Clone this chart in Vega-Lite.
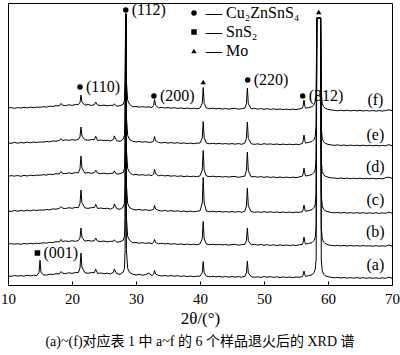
{
"$schema":"https://vega.github.io/schema/vega-lite/v6.json",
"width":384,"height":282,
"autosize":{"type":"none"},
"padding":{"left":8,"top":3,"right":8,"bottom":70},
"config":{"view":{"stroke":"black","strokeWidth":1},"font":"Liberation Serif, Noto Sans CJK SC"},
"title":{"text":"(a)~(f)对应表 1 中 a~f 的 6 个样品退火后的 XRD 谱","orient":"bottom","anchor":"middle","font":"Liberation Serif, Noto Sans CJK SC","fontSize":14,"fontWeight":"normal","color":"black","offset":9},
"datasets":{
"xrd":[
{"x":10,"a":9.3,"b":40.7,"c":74.2,"d":108.6,"e":142.3,"f":176.8},
{"x":10.5,"a":8.6,"b":41.4,"c":73.5,"d":109.4,"e":141.6,"f":177.5},
{"x":11,"a":9.5,"b":40.8,"c":74.6,"d":108.9,"e":142.7,"f":176.6},
{"x":11.5,"a":8.9,"b":41.3,"c":73.8,"d":109.5,"e":141.8,"f":177.4},
{"x":12,"a":9.4,"b":40.6,"c":74.5,"d":108.7,"e":142.5,"f":177.0},
{"x":12.5,"a":8.8,"b":41.6,"c":74.0,"d":109.6,"e":142.0,"f":177.7},
{"x":13,"a":9.7,"b":41.0,"c":74.8,"d":109.0,"e":142.9,"f":177.1},
{"x":13.5,"a":9.1,"b":41.7,"c":74.1,"d":109.8,"e":142.2,"f":177.9},
{"x":14,"a":9.8,"b":41.2,"c":75.0,"d":109.3,"e":143.0,"f":177.3},
{"x":14.5,"a":9.3,"b":41.9,"c":74.4,"d":110.0,"e":142.5,"f":178.0},
{"x":14.85,"a":12.5,"b":41.4,"c":75.1,"d":109.5,"e":143.1,"f":177.5},
{"x":15,"a":24.8,"b":42.0,"c":74.6,"d":110.2,"e":142.6,"f":178.2},
{"x":15.15,"a":12.8,"b":41.6,"c":75.2,"d":109.7,"e":143.2,"f":177.6},
{"x":15.5,"a":10.2,"b":42.3,"c":74.8,"d":110.4,"e":142.8,"f":178.4},
{"x":16,"a":9.9,"b":41.8,"c":75.5,"d":109.9,"e":143.6,"f":177.9},
{"x":16.5,"a":10.8,"b":42.7,"c":75.2,"d":110.8,"e":143.2,"f":178.8},
{"x":17,"a":10.4,"b":42.4,"c":76.1,"d":110.4,"e":144.1,"f":178.5},
{"x":17.5,"a":11.3,"b":43.4,"c":75.8,"d":111.3,"e":143.7,"f":179.4},
{"x":18,"a":11.0,"b":43.0,"c":76.6,"d":111.0,"e":144.6,"f":179.0},
{"x":18.3,"a":13.5,"b":45.6,"c":78.4,"d":113.6,"e":146.4,"f":181.6},
{"x":18.5,"a":11.9,"b":43.4,"c":76.9,"d":111.8,"e":144.5,"f":179.8},
{"x":19,"a":11.4,"b":44.1,"c":76.4,"d":111.3,"e":145.2,"f":179.4},
{"x":19.5,"a":12.2,"b":43.5,"c":77.3,"d":112.2,"e":144.6,"f":180.2},
{"x":20,"a":11.6,"b":44.3,"c":76.7,"d":111.5,"e":145.4,"f":179.6},
{"x":20.5,"a":12.4,"b":43.7,"c":77.5,"d":112.4,"e":144.8,"f":180.4},
{"x":21,"a":12.5,"b":44.4,"c":77.4,"d":112.3,"e":145.6,"f":180.3},
{"x":21.25,"a":17.0,"b":47.2,"c":81.5,"d":116.2,"e":148.2,"f":182.5},
{"x":21.4,"a":32,"b":57,"c":95,"d":129,"e":158,"f":190},
{"x":21.55,"a":18.0,"b":47.9,"c":82.4,"d":117.1,"e":148.9,"f":183.0},
{"x":22,"a":12.3,"b":43.8,"c":77.2,"d":111.8,"e":145.3,"f":179.8},
{"x":22.5,"a":11.7,"b":44.5,"c":76.6,"d":112.5,"e":144.7,"f":180.5},
{"x":23,"a":12.4,"b":43.9,"c":77.3,"d":111.7,"e":145.4,"f":179.6},
{"x":23.5,"a":12.3,"b":44.3,"c":77.5,"d":112.2,"e":145.5,"f":180.3},
{"x":23.7,"a":15.8,"b":46.8,"c":80.8,"d":114.8,"e":148.8,"f":182.8},
{"x":24,"a":11.5,"b":43.9,"c":76.5,"d":111.9,"e":144.5,"f":180.0},
{"x":24.5,"a":12.0,"b":43.4,"c":77.0,"d":111.3,"e":145.0,"f":179.4},
{"x":25,"a":11.3,"b":44.0,"c":76.3,"d":111.9,"e":144.3,"f":179.9},
{"x":25.5,"a":11.8,"b":43.2,"c":76.8,"d":111.1,"e":144.8,"f":179.2},
{"x":26,"a":11.0,"b":43.6,"c":75.9,"d":111.6,"e":144.0,"f":179.6},
{"x":26.5,"a":12.8,"b":43.8,"c":77.4,"d":112.0,"e":145.6,"f":179.7},
{"x":26.6,"a":16.1,"b":45.1,"c":81.1,"d":114.1,"e":149.1,"f":181.1},
{"x":27,"a":11.2,"b":42.8,"c":76.3,"d":110.8,"e":144.2,"f":178.8},
{"x":27.5,"a":10.7,"b":43.3,"c":75.7,"d":111.3,"e":143.6,"f":179.3},
{"x":28,"a":12.9,"b":44.6,"c":77.8,"d":112.6,"e":145.9,"f":180.6},
{"x":28.2,"a":16.8,"b":48.7,"c":81.8,"d":116.7,"e":149.8,"f":184.7},
{"x":28.3,"a":35.7,"b":67.6,"c":100.7,"d":135.6,"e":168.7,"f":203.6},
{"x":28.38,"a":271,"b":271,"c":271,"d":271,"e":271,"f":271},
{"x":28.46,"a":271,"b":271,"c":271,"d":271,"e":271,"f":271},
{"x":28.5,"a":35.5,"b":67.8,"c":100.4,"d":135.8,"e":168.5,"f":203.8},
{"x":28.7,"a":16.6,"b":48.5,"c":81.6,"d":116.5,"e":149.6,"f":184.5},
{"x":29,"a":12.4,"b":44.6,"c":77.4,"d":112.6,"e":145.4,"f":180.6},
{"x":29.5,"a":10.8,"b":42.2,"c":75.7,"d":110.1,"e":143.7,"f":178.2},
{"x":30,"a":10.0,"b":42.5,"c":75.0,"d":110.6,"e":143.0,"f":178.6},
{"x":30.5,"a":10.6,"b":41.8,"c":75.6,"d":109.9,"e":143.5,"f":177.9},
{"x":31,"a":9.8,"b":42.3,"c":74.8,"d":110.3,"e":142.8,"f":178.3},
{"x":31.5,"a":10.4,"b":41.6,"c":75.3,"d":109.7,"e":143.3,"f":177.8},
{"x":32,"a":11.8,"b":42.1,"c":74.6,"d":110.1,"e":142.6,"f":178.1},
{"x":32.5,"a":9.4,"b":41.4,"c":75.0,"d":109.4,"e":143.0,"f":177.4},
{"x":32.75,"a":10.8,"b":42.6,"c":75.8,"d":111.0,"e":144.0,"f":179.6},
{"x":32.9,"a":14.5,"b":45.5,"c":79.5,"d":115.5,"e":148.5,"f":185.5},
{"x":33.05,"a":11.0,"b":42.7,"c":76.0,"d":111.3,"e":144.3,"f":179.9},
{"x":33.5,"a":9.6,"b":41.2,"c":74.6,"d":109.2,"e":142.6,"f":177.2},
{"x":34,"a":9.0,"b":41.7,"c":74.0,"d":109.8,"e":142.1,"f":177.6},
{"x":34.5,"a":9.5,"b":41.1,"c":74.5,"d":109.1,"e":142.6,"f":177.0},
{"x":35,"a":8.9,"b":41.5,"c":73.8,"d":109.5,"e":141.9,"f":177.4},
{"x":35.5,"a":9.4,"b":40.8,"c":74.3,"d":108.8,"e":142.4,"f":176.8},
{"x":36,"a":8.8,"b":41.3,"c":73.7,"d":109.3,"e":141.8,"f":177.3},
{"x":36.5,"a":9.3,"b":40.6,"c":74.2,"d":108.6,"e":142.3,"f":176.6},
{"x":37,"a":8.6,"b":41.1,"c":73.5,"d":109.1,"e":141.6,"f":177.1},
{"x":37.5,"a":9.1,"b":40.4,"c":74.0,"d":108.4,"e":142.1,"f":176.4},
{"x":38,"a":8.4,"b":40.9,"c":73.3,"d":108.9,"e":141.4,"f":176.9},
{"x":38.5,"a":8.9,"b":40.3,"c":73.8,"d":108.3,"e":141.9,"f":176.3},
{"x":39,"a":8.3,"b":40.8,"c":73.2,"d":108.8,"e":141.3,"f":176.8},
{"x":39.5,"a":8.8,"b":40.2,"c":73.7,"d":108.2,"e":141.8,"f":176.2},
{"x":40,"a":8.8,"b":41.1,"c":74.2,"d":109.2,"e":142.0,"f":177.0},
{"x":40.35,"a":12.3,"b":46.3,"c":82.0,"d":115.0,"e":147.0,"f":181.8},
{"x":40.5,"a":23.5,"b":63.5,"c":107.5,"d":134.5,"e":163.5,"f":197.5},
{"x":40.65,"a":12.2,"b":46.2,"c":82.1,"d":114.9,"e":147.1,"f":181.7},
{"x":41,"a":8.9,"b":40.9,"c":73.9,"d":109.0,"e":141.9,"f":177.0},
{"x":41.5,"a":8.2,"b":40.3,"c":73.3,"d":108.3,"e":141.2,"f":176.3},
{"x":42,"a":8.7,"b":40.7,"c":73.8,"d":108.8,"e":141.7,"f":176.8},
{"x":42.5,"a":8.1,"b":40.2,"c":73.1,"d":108.1,"e":141.1,"f":176.1},
{"x":43,"a":8.6,"b":40.6,"c":73.6,"d":108.6,"e":141.6,"f":176.6},
{"x":43.5,"a":8.0,"b":40.1,"c":73.0,"d":108.0,"e":141.0,"f":176.0},
{"x":44,"a":8.5,"b":40.5,"c":73.5,"d":108.5,"e":141.5,"f":176.5},
{"x":44.5,"a":7.9,"b":39.9,"c":72.9,"d":107.9,"e":140.9,"f":175.9},
{"x":45,"a":8.4,"b":40.4,"c":73.4,"d":108.4,"e":141.4,"f":176.4},
{"x":45.5,"a":7.9,"b":40.6,"c":72.8,"d":108.5,"e":140.8,"f":176.6},
{"x":46,"a":8.5,"b":39.8,"c":73.5,"d":107.7,"e":141.5,"f":175.8},
{"x":46.5,"a":7.8,"b":40.4,"c":72.7,"d":108.3,"e":140.7,"f":176.4},
{"x":47,"a":8.6,"b":40.6,"c":73.9,"d":108.9,"e":141.8,"f":176.9},
{"x":47.25,"a":12.0,"b":44.3,"c":79.0,"d":114.3,"e":146.5,"f":181.3},
{"x":47.4,"a":24,"b":57,"c":97,"d":133,"e":163,"f":197},
{"x":47.55,"a":12.1,"b":44.2,"c":79.1,"d":114.2,"e":146.6,"f":181.2},
{"x":48,"a":8.3,"b":40.2,"c":73.4,"d":108.1,"e":141.3,"f":176.2},
{"x":48.5,"a":7.7,"b":40.7,"c":72.7,"d":108.6,"e":140.6,"f":176.7},
{"x":49,"a":8.2,"b":39.9,"c":73.2,"d":107.8,"e":141.2,"f":175.9},
{"x":49.5,"a":7.6,"b":40.5,"c":72.6,"d":108.4,"e":140.5,"f":176.4},
{"x":50,"a":8.4,"b":39.7,"c":73.3,"d":107.6,"e":141.3,"f":175.7},
{"x":50.5,"a":7.8,"b":40.3,"c":72.7,"d":108.3,"e":140.7,"f":176.3},
{"x":51,"a":8.3,"b":39.6,"c":73.2,"d":107.5,"e":141.1,"f":175.6},
{"x":51.5,"a":7.6,"b":40.2,"c":72.5,"d":108.1,"e":140.5,"f":176.1},
{"x":52,"a":8.2,"b":39.5,"c":73.1,"d":107.4,"e":141.0,"f":175.5},
{"x":52.5,"a":7.5,"b":40.1,"c":72.4,"d":108.0,"e":140.4,"f":176.0},
{"x":53,"a":8.1,"b":39.5,"c":73.0,"d":107.4,"e":140.9,"f":175.4},
{"x":53.5,"a":7.5,"b":40.0,"c":72.4,"d":107.9,"e":140.3,"f":175.9},
{"x":54,"a":8.0,"b":39.4,"c":72.9,"d":107.3,"e":140.8,"f":175.3},
{"x":54.5,"a":7.4,"b":40.0,"c":72.3,"d":107.9,"e":140.3,"f":175.9},
{"x":55,"a":8.0,"b":39.5,"c":72.9,"d":107.4,"e":140.8,"f":175.4},
{"x":55.5,"a":7.7,"b":40.2,"c":72.6,"d":108.0,"e":140.5,"f":176.0},
{"x":56,"a":8.4,"b":40.6,"c":73.4,"d":108.9,"e":141.6,"f":176.8},
{"x":56.1,"a":9.8,"b":42.4,"c":75.1,"d":110.7,"e":143.7,"f":178.7},
{"x":56.25,"a":14,"b":48,"c":80,"d":117,"e":150,"f":185},
{"x":56.4,"a":9.9,"b":42.5,"c":75.0,"d":110.8,"e":143.8,"f":178.6},
{"x":56.5,"a":8.7,"b":40.9,"c":73.8,"d":109.0,"e":141.9,"f":176.9},
{"x":57,"a":9.3,"b":41.6,"c":74.4,"d":109.6,"e":142.6,"f":177.4},
{"x":57.5,"a":10.3,"b":42.4,"c":75.3,"d":110.5,"e":143.4,"f":178.3},
{"x":57.8,"a":12.2,"b":44.4,"c":77.3,"d":112.4,"e":145.3,"f":180.2},
{"x":58,"a":15.2,"b":47.3,"c":80.2,"d":115.3,"e":148.2,"f":183.3},
{"x":58.15,"a":26,"b":58,"c":91,"d":126,"e":159,"f":194},
{"x":58.25,"a":267,"b":267,"c":267,"d":267,"e":267,"f":267},
{"x":58.85,"a":267,"b":267,"c":267,"d":267,"e":267,"f":267},
{"x":58.95,"a":25,"b":57,"c":90,"d":124.5,"e":157.5,"f":192.5},
{"x":59.1,"a":14.2,"b":46.3,"c":79.2,"d":113.6,"e":146.4,"f":181.5},
{"x":59.3,"a":10.9,"b":43.1,"c":76.0,"d":110.6,"e":143.3,"f":178.4},
{"x":59.5,"a":9.5,"b":41.7,"c":74.4,"d":109.1,"e":142.0,"f":177.0},
{"x":60,"a":8.3,"b":40.1,"c":73.2,"d":107.8,"e":140.6,"f":175.6},
{"x":60.5,"a":7.6,"b":39.6,"c":72.5,"d":107.2,"e":140.1,"f":175.0},
{"x":61,"a":7.2,"b":39.2,"c":72.2,"d":107.0,"e":139.6,"f":174.7},
{"x":61.5,"a":7.6,"b":39.7,"c":72.6,"d":106.5,"e":140.1,"f":174.2},
{"x":62,"a":7.0,"b":39.1,"c":72.0,"d":107.0,"e":139.5,"f":174.8},
{"x":62.5,"a":7.5,"b":39.6,"c":72.5,"d":106.4,"e":140.0,"f":174.2},
{"x":63,"a":6.9,"b":39.0,"c":71.9,"d":106.9,"e":139.4,"f":174.7},
{"x":63.5,"a":7.4,"b":39.5,"c":72.4,"d":106.3,"e":139.9,"f":174.1},
{"x":64,"a":6.8,"b":39.0,"c":71.8,"d":106.8,"e":139.4,"f":174.6},
{"x":64.5,"a":7.4,"b":39.4,"c":72.3,"d":106.3,"e":139.8,"f":174.1},
{"x":65,"a":6.8,"b":38.9,"c":71.8,"d":106.8,"e":139.3,"f":174.6},
{"x":65.5,"a":7.3,"b":39.4,"c":72.3,"d":106.2,"e":139.8,"f":174.0},
{"x":66,"a":6.7,"b":38.9,"c":71.7,"d":106.7,"e":139.2,"f":174.5},
{"x":66.5,"a":7.3,"b":39.3,"c":72.2,"d":106.2,"e":139.7,"f":174.0},
{"x":67,"a":6.7,"b":38.8,"c":71.7,"d":106.7,"e":139.2,"f":174.5},
{"x":67.5,"a":7.2,"b":39.3,"c":72.2,"d":106.1,"e":139.7,"f":173.9},
{"x":68,"a":6.6,"b":38.8,"c":71.6,"d":106.6,"e":139.1,"f":174.4},
{"x":68.5,"a":7.2,"b":39.2,"c":72.1,"d":106.1,"e":139.6,"f":173.9},
{"x":69,"a":6.7,"b":38.8,"c":71.7,"d":107.2,"e":139.2,"f":174.4},
{"x":69.5,"a":7.8,"b":39.9,"c":72.9,"d":107.8,"e":140.4,"f":175.2},
{"x":70,"a":6.8,"b":38.9,"c":71.8,"d":106.7,"e":139.3,"f":174.3}
],
"peaks":[
{"x":28.4,"y":275,"phase":"Cu₂ZnSnS₄","label":"(112)"},
{"x":21.25,"y":198,"phase":"Cu₂ZnSnS₄","label":"(110)"},
{"x":32.8,"y":189,"phase":"Cu₂ZnSnS₄","label":"(200)"},
{"x":47.45,"y":205,"phase":"Cu₂ZnSnS₄","label":"(220)"},
{"x":56.05,"y":189,"phase":"Cu₂ZnSnS₄","label":"(312)"},
{"x":14.6,"y":32,"phase":"SnS₂","label":"(001)"},
{"x":40.5,"y":203,"phase":"Mo","label":""},
{"x":58.55,"y":273,"phase":"Mo","label":""}
],
"samples":[
{"x":67.4,"y":185,"label":"(f)"},
{"x":67.4,"y":150,"label":"(e)"},
{"x":67.4,"y":118,"label":"(d)"},
{"x":67.4,"y":85,"label":"(c)"},
{"x":67.4,"y":53,"label":"(b)"},
{"x":67.4,"y":20,"label":"(a)"}
]
},
"layer":[
{"data":{"name":"xrd"},
 "transform":[{"fold":["a","b","c","d","e","f"],"as":["sample","v"]}],
 "mark":{"type":"line","color":"black","strokeWidth":1,"clip":true},
 "encoding":{
  "x":{"field":"x","type":"quantitative","scale":{"domain":[10,70],"nice":false,"zero":false},
       "axis":{"values":[10,20,30,40,50,60,70],"title":"2θ/(°)","titleFont":"Liberation Serif","titleFontSize":17,"titleFontWeight":"normal","titleColor":"black","titlePadding":4,
               "labelFont":"Liberation Serif","labelFontSize":15,"labelColor":"black","tickSize":-4,"tickColor":"black","domain":false,"grid":false,"labelPadding":10,"labelFlush":false}},
  "y":{"field":"v","type":"quantitative","scale":{"domain":[0,282],"nice":false},"axis":null},
  "detail":{"field":"sample","type":"nominal"}
 }},
{"data":{"name":"peaks"},
 "mark":{"type":"point","filled":true,"color":"black","opacity":1,"size":30},
 "encoding":{
  "x":{"field":"x","type":"quantitative"},
  "y":{"field":"y","type":"quantitative"},
  "shape":{"field":"phase","type":"nominal",
    "scale":{"domain":["Cu₂ZnSnS₄","SnS₂","Mo"],"range":["circle","square","triangle-up"]},
    "legend":{"orient":"none","legendX":178,"legendY":2,"title":null,"labelFont":"Liberation Serif","labelFontSize":16,"labelColor":"black","symbolFillColor":"black","symbolStrokeColor":"black","symbolSize":30,"symbolOpacity":1,"rowPadding":3,"labelOffset":4,"labelExpr":"'— ' + datum.label"}}
 }},
{"data":{"name":"peaks"},
 "mark":{"type":"text","align":"left","baseline":"middle","dx":6,"font":"Liberation Serif","fontSize":16,"color":"black"},
 "encoding":{
  "x":{"field":"x","type":"quantitative"},
  "y":{"field":"y","type":"quantitative"},
  "text":{"field":"label"}
 }},
{"data":{"name":"samples"},
 "mark":{"type":"text","align":"center","baseline":"middle","font":"Liberation Serif","fontSize":16,"color":"black"},
 "encoding":{
  "x":{"field":"x","type":"quantitative"},
  "y":{"field":"y","type":"quantitative"},
  "text":{"field":"label"}
 }}
]
}
